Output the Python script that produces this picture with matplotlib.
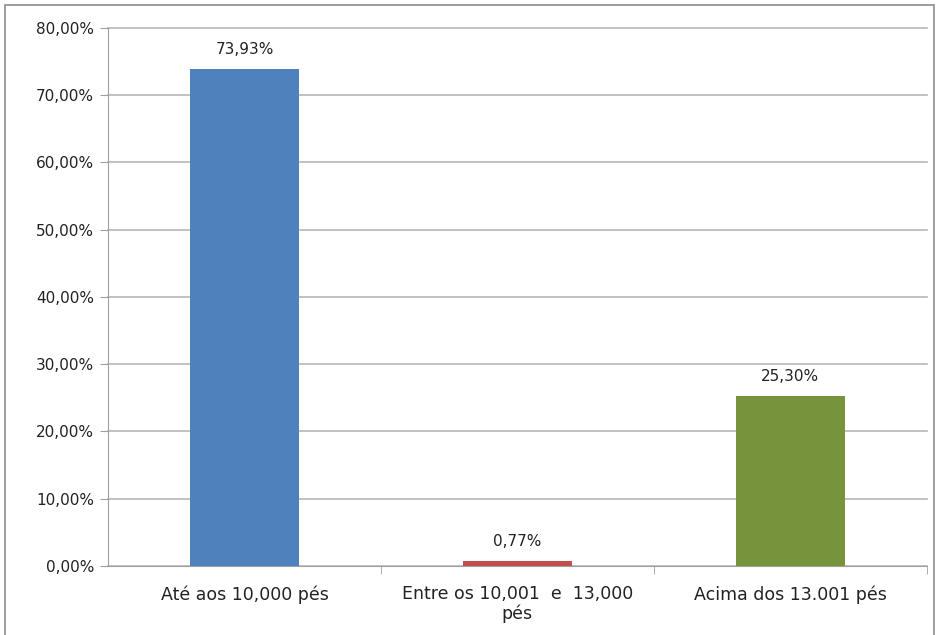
import matplotlib
matplotlib.use("Agg")
import matplotlib.pyplot as plt
from matplotlib.patches import Rectangle

categories = ['Até aos 10,000 pés', 'Entre os 10,001  e  13,000\npés', 'Acima dos 13.001 pés']
values = [73.93, 0.77, 25.30]
colors = ['#4F81BD', '#C0504D', '#77933C']
yticks = [0, 10, 20, 30, 40, 50, 60, 70, 80]


def pct(v):
    return f'{v:.2f}%'.replace('.', ',')


fig = plt.figure(figsize=(9.39, 6.35), dpi=100)
# moldura do gráfico
fig.patches.append(Rectangle((0.005, -0.01), 0.99, 1.002, transform=fig.transFigure,
                             fill=False, edgecolor='#8c8c8c', linewidth=1.2))

ax = fig.add_axes([0.115, 0.1087, 0.872, 0.8473])
x = range(len(categories))
ax.bar(x, values, width=0.40, color=colors, zorder=3)

for i, v in enumerate(values):
    ax.text(i, v + 1.7, pct(v), ha='center', va='bottom', fontsize=11, color='#222222')

ax.set_xlim(-0.5, 2.5)
ax.set_ylim(0, 80)
ax.set_yticks(yticks)
ax.set_yticklabels([pct(t) for t in yticks], fontsize=11, color='#222222')
ax.yaxis.grid(True, color='#b8b8b8', linewidth=1.2, zorder=0)
for gl in ax.get_ygridlines():
    gl.set_clip_on(False)

ax.set_xticks([0, 1, 2])
ax.set_xticklabels(categories, fontsize=12.5, color='#222222', linespacing=1.05)
ax.tick_params(axis='x', length=0, pad=14)
ax.set_xticks([0.5, 1.5, 2.5], minor=True)
ax.tick_params(axis='x', which='minor', length=6, color='#a0a0a0')
ax.tick_params(axis='y', length=6, color='#a0a0a0', pad=4)

for s in ['top', 'right']:
    ax.spines[s].set_visible(False)
ax.spines['left'].set_color('#a0a0a0')
ax.spines['bottom'].set_color('#a0a0a0')

fig.savefig('out.png', dpi=100)
